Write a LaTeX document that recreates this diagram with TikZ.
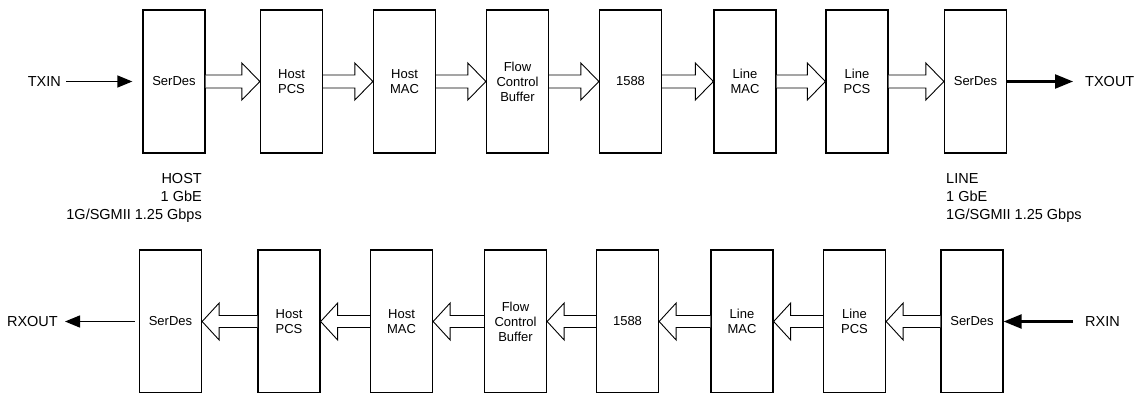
\documentclass[tikz,border=0pt]{standalone}
\usepackage{fontspec}
\setmainfont{Liberation Sans}
\usetikzlibrary{calc,arrows.meta}
\newcommand{\hollowR}[2]{%
 \draw[hollow] ($(#1.east)+(0,-6.5)$) -- ($(#2.west)+(-18,-6.5)$) -- ($(#2.west)+(-18,-18.5)$) -- (#2.west) -- ($(#2.west)+(-18,18.5)$) -- ($(#2.west)+(-18,6.5)$) -- ($(#1.east)+(0,6.5)$);}
\newcommand{\hollowL}[2]{%
 \draw[hollow] ($(#1.west)+(0,-6)$) -- ($(#2.east)+(17,-6)$) -- ($(#2.east)+(17,-18.5)$) -- (#2.east) -- ($(#2.east)+(17,18.5)$) -- ($(#2.east)+(17,6)$) -- ($(#1.west)+(0,6)$);}
\begin{document}
\begin{tikzpicture}[x=1pt,y=-1pt,
  blockbox/.style={draw,line width=1.3pt,minimum width=62pt,minimum height=143pt,inner sep=0pt,align=center,font=\fontsize{13}{15}\selectfont},
  hollow/.style={draw,line width=0.9pt,fill=white,line join=miter},
  thinarrow/.style={line width=1.4pt,-{Triangle[length=15pt,width=12pt]}},
  thickarrow/.style={line width=2.4pt,-{Triangle[length=18pt,width=14pt]}},
  iolabel/.style={inner sep=2pt,font=\fontsize{14.5}{18}\selectfont},
  infolabel/.style={inner sep=0pt,font=\fontsize{14.5}{18}\selectfont}]
\useasboundingbox (0,0) rectangle (1139,393);
\clip (0,0) rectangle (1139,393);
% top row
\node[blockbox] (t1) at (174,81.5) {SerDes};
\node[blockbox] (t2) at (291.5,81.5) {Host\\PCS};
\node[blockbox] (t3) at (404.5,81.5) {Host\\MAC};
\node[blockbox] (t4) at (517.5,81.5) {Flow\\Control\\Buffer};
\node[blockbox] (t5) at (630.5,81.5) {1588};
\node[blockbox] (t6) at (745,81.5) {Line\\MAC};
\node[blockbox] (t7) at (857,81.5) {Line\\PCS};
\node[blockbox] (t8) at (975.5,81.5) {SerDes};
% bottom row
\node[blockbox] (b1) at (170.5,321.5) {SerDes};
\node[blockbox] (b2) at (289,321.5) {Host\\PCS};
\node[blockbox] (b3) at (401.5,321.5) {Host\\MAC};
\node[blockbox] (b4) at (515.5,321.5) {Flow\\Control\\Buffer};
\node[blockbox] (b5) at (627.5,321.5) {1588};
\node[blockbox] (b6) at (742,321.5) {Line\\MAC};
\node[blockbox] (b7) at (854.5,321.5) {Line\\PCS};
\node[blockbox] (b8) at (972,321.5) {SerDes};
% hollow arrows
\hollowR{t1}{t2}\hollowR{t2}{t3}\hollowR{t3}{t4}\hollowR{t4}{t5}
\hollowR{t5}{t6}\hollowR{t6}{t7}\hollowR{t7}{t8}
\hollowL{b8}{b7}\hollowL{b7}{b6}\hollowL{b6}{b5}\hollowL{b5}{b4}
\hollowL{b4}{b3}\hollowL{b3}{b2}\hollowL{b2}{b1}
% io labels
\node[iolabel,anchor=east] (txin) at (63,81.5) {TXIN};
\node[iolabel,anchor=west] (txout) at (1083,81.5) {TXOUT};
\node[iolabel,anchor=east] (rxout) at (60,321.5) {RXOUT};
\node[iolabel,anchor=west] (rxin) at (1083,321.5) {RXIN};
\draw[thinarrow,shorten <=3pt,shorten >=10pt] (txin.east) -- (t1.west);
\draw[thickarrow,shorten >=10pt] (t8.east) -- (txout.west);
\draw[thinarrow,shorten <=4pt,shorten >=5pt] (b1.west) -- (rxout.east);
\draw[thickarrow,shorten <=10pt] (rxin.west) -- (b8.east);
% info labels
\node[infolabel,anchor=north east,align=right] (host) at (202,173) {HOST\\1 GbE\\1G/SGMII 1.25 Gbps};
\node[infolabel,anchor=north west,align=left] (line) at (946,173) {LINE\\1 GbE\\1G/SGMII 1.25 Gbps};
\end{tikzpicture}
\end{document}
